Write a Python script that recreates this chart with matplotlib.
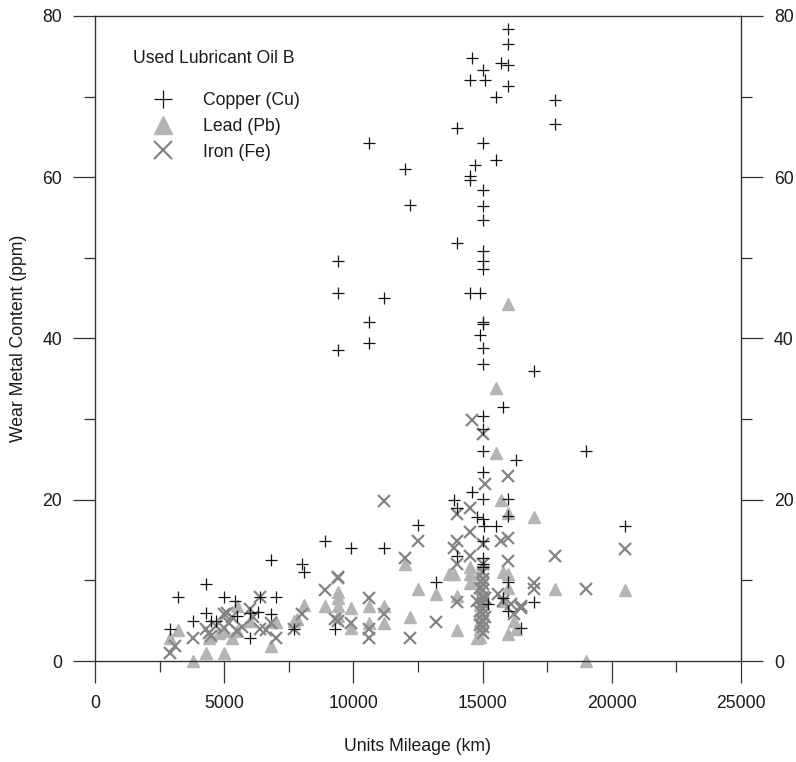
import matplotlib
matplotlib.use("Agg")
import matplotlib.pyplot as plt
from matplotlib.ticker import MultipleLocator
from matplotlib.lines import Line2D

plt.rcParams['font.family'] = ['Liberation Sans', 'DejaVu Sans']

# ---------------- data ----------------
cu_x = [16000, 16000, 14600, 15700, 16000, 15000, 14500, 15100, 16000, 15500, 17800, 17800,
        14000, 15000, 15500, 14700, 14500, 14500, 15000, 15000, 15000, 14000, 15000, 15000,
        15000, 14500, 14900, 15000, 15000, 14900, 15000, 15000, 17000,
        10600, 12000, 12200, 9400, 9400, 11200, 10600, 10600, 9400, 15800,
        15000, 15000, 15000, 16300, 19000, 15000, 14600, 13900, 15000, 16000, 14000, 16000,
        14800, 15000, 15500, 15050, 15000, 14000, 15000, 15000, 15000, 16000, 15800, 15200,
        16000, 16500, 17000, 20500, 12500, 9900, 11200, 13200, 9300,
        8900, 8000, 8100, 6800, 4300, 3200, 5000, 5400, 7000, 6400, 4300, 3800, 4500, 4700,
        5500, 6000, 6300, 6800, 2900, 6000, 7700]
cu_y = [78.4, 76.5, 74.8, 74.2, 73.9, 73.3, 72.0, 72.0, 71.3, 69.9, 69.6, 66.6,
        66.1, 64.2, 62.2, 61.5, 60.2, 59.6, 58.4, 56.4, 54.7, 51.9, 50.9, 49.6,
        48.6, 45.6, 45.7, 42.0, 41.8, 40.4, 38.8, 36.8, 36.0,
        64.3, 61.0, 56.6, 49.6, 45.6, 45.0, 42.0, 39.4, 38.6, 31.5,
        30.4, 28.8, 26.1, 24.9, 26.0, 23.5, 21.0, 20.0, 20.1, 20.1, 19.0, 18.0,
        17.9, 17.6, 16.8, 16.8, 14.9, 13.0, 12.8, 12.0, 11.7, 9.8, 7.8, 7.1,
        6.2, 4.1, 7.3, 16.8, 16.9, 14.0, 14.0, 9.8, 4.0,
        14.9, 12.0, 11.0, 12.5, 9.5, 8.0, 8.0, 7.5, 8.0, 8.0, 6.0, 5.0, 5.0, 5.0,
        5.6, 6.0, 6.1, 5.8, 4.0, 2.9, 4.0]

fe_x = [2900, 3100, 3800, 4300, 4500, 5000, 5000, 5200, 5500, 6000, 6400, 6400, 6800, 7000,
        7700, 8000, 8900, 9400, 9300, 4400, 4700, 5300, 5700, 6100, 6600, 5100,
        11200, 12500, 12000, 9400, 9400, 9900, 10600, 10600, 10600, 11200, 12200, 13200,
        14600, 15000, 15100, 16000, 14000, 14500, 14500, 14000, 13900, 15000, 15700, 16000,
        16000, 14000, 14500, 14000, 14800, 15600, 15800, 16100, 16500, 17000, 17000, 17800,
        19000, 20500, 16500, 16200,
        15000, 15000, 15000, 15000, 15000, 15000, 15000, 15000, 15000, 15000, 15000, 15000,
        14900, 14900, 14900, 15100, 15100]
fe_y = [1.0, 1.9, 2.9, 4.0, 3.1, 4.1, 5.8, 4.7, 3.7, 6.5, 8.0, 4.0, 4.7, 2.9,
        4.0, 5.8, 8.8, 10.4, 5.2, 3.5, 4.4, 5.5, 4.2, 5.4, 3.8, 6.0,
        19.9, 14.9, 12.8, 10.3, 5.0, 4.7, 7.8, 2.9, 4.0, 5.8, 2.9, 4.8,
        29.9, 28.2, 22.0, 23.0, 18.2, 19.0, 16.0, 14.9, 14.0, 14.5, 14.9, 15.3,
        12.4, 12.0, 13.0, 7.3, 7.5, 8.3, 7.5, 7.1, 6.8, 9.7, 8.9, 13.0,
        8.9, 13.9, 6.6, 5.8,
        3.5, 4.2, 5.0, 5.8, 6.5, 7.2, 8.0, 8.8, 9.5, 10.2, 11.0, 12.0,
        4.5, 6.2, 9.0, 5.4, 7.8]

pb_x = [3800, 4300, 5000, 3200, 2900, 4400, 4800, 5300, 5500, 5000, 5500, 6000, 6800, 7000,
        7700, 7800, 8100, 8900, 9400, 9400, 9400, 9400, 9900, 9900, 10600, 10600, 11200,
        11200, 12000, 12500, 12200, 13200, 13700,
        16000, 15500, 15500, 15700, 16000, 17000, 14000, 13900, 14000, 14500, 14500, 14500,
        15800, 16000, 16000, 15800, 16000, 14800, 17800, 19000, 20500, 16300, 16200,
        14900, 14900, 14900, 14900, 14900, 14900, 14900, 14900, 14900]
pb_y = [0.0, 1.0, 1.0, 3.8, 2.9, 2.9, 3.5, 2.9, 3.7, 3.7, 6.8, 5.0, 1.9, 4.8,
        5.0, 5.2, 7.0, 6.8, 8.5, 6.8, 5.6, 7.8, 6.6, 4.1, 6.8, 4.7, 6.8,
        4.7, 12.0, 8.9, 5.5, 8.3, 10.8,
        44.3, 33.9, 25.8, 20.0, 18.4, 17.9, 3.8, 10.8, 8.1, 9.7, 10.8, 11.6,
        11.1, 10.8, 9.1, 7.5, 3.4, 2.9, 8.9, 0.0, 8.8, 4.0, 5.0,
        3.0, 4.0, 5.0, 6.0, 7.0, 8.0, 9.0, 10.0, 11.0]

x_ticks = [0, 5000, 10000, 15000, 20000, 25000]
y_ticks = [0, 20, 40, 60, 80]
legend_title = "Used Lubricant Oil B"
labels = ["Copper (Cu)", "Lead (Pb)", "Iron (Fe)"]

# ---------------- figure ----------------
W, H, DPI = 796, 762, 100
fig = plt.figure(figsize=(W / DPI, H / DPI), dpi=DPI)
L, R, T, B = 95, 741, 16, 661
ax = fig.add_axes([L / W, (H - B) / H, (R - L) / W, (B - T) / H])

txt = '#1a1a1a'
fs = 12.7
cu_col, pb_col, fe_col = '#111111', '#b4b4b4', '#858585'
ms = 8.6

ax.plot(pb_x, pb_y, linestyle='none', marker='^', ms=ms, color=pb_col, mec=pb_col, zorder=2, clip_on=False)
ax.plot(fe_x, fe_y, linestyle='none', marker='x', ms=ms, color=fe_col, mew=1.6, zorder=3, clip_on=False)
ax.plot(cu_x, cu_y, linestyle='none', marker='+', ms=ms, color=cu_col, mew=0.9, zorder=4, clip_on=False)

ax.set_xlim(0, 25000)
ax.set_ylim(0, 80)
ax.set_xticks(x_ticks)
ax.set_yticks(y_ticks)
ax.xaxis.set_minor_locator(MultipleLocator(2500))
ax.yaxis.set_minor_locator(MultipleLocator(10))

for s in ax.spines.values():
    s.set_color('#333333')
    s.set_linewidth(1.0)

ax.tick_params(axis='x', which='major', direction='out', length=15.8, width=0.9,
               color='#333333', labelsize=fs, labelcolor=txt, pad=9)
ax.tick_params(axis='x', which='minor', direction='out', length=7.9, width=0.9, color='#333333')
ax.tick_params(axis='y', which='major', direction='out', length=15.8, width=0.9,
               color='#333333', labelsize=fs, labelcolor=txt, pad=8,
               left=True, right=True, labelleft=True, labelright=True)
ax.tick_params(axis='y', which='minor', direction='out', length=7.9, width=0.9,
               color='#333333', left=True, right=True)

ax.set_xlabel("Units Mileage (km)", fontsize=fs, color=txt)
ax.set_ylabel("Wear Metal Content (ppm)", fontsize=fs, color=txt)
ax.xaxis.set_label_coords(0.5, -0.12)
ax.yaxis.set_label_coords(-0.105, 0.5)

# legend
ax.text((133 - L) / (R - L), (B - 59) / (B - T), legend_title, transform=ax.transAxes,
        fontsize=fs, color=txt, ha='left', va='center')
handles = [
    Line2D([], [], linestyle='none', marker='+', ms=ms, color=cu_col, mew=0.9),
    Line2D([], [], linestyle='none', marker='^', ms=ms, color=pb_col),
    Line2D([], [], linestyle='none', marker='x', ms=ms, color=fe_col, mew=1.6),
]
leg = ax.legend(handles, labels, loc='upper left',
                bbox_to_anchor=((133 - L) / (R - L), (B - 92) / (B - T)),
                frameon=False, fontsize=fs, markerscale=1.55, numpoints=1,
                handlelength=3.4, handletextpad=0.55, labelspacing=0.5,
                borderpad=0, borderaxespad=0)
for t in leg.get_texts():
    t.set_color(txt)

fig.savefig("out.png", dpi=DPI)
